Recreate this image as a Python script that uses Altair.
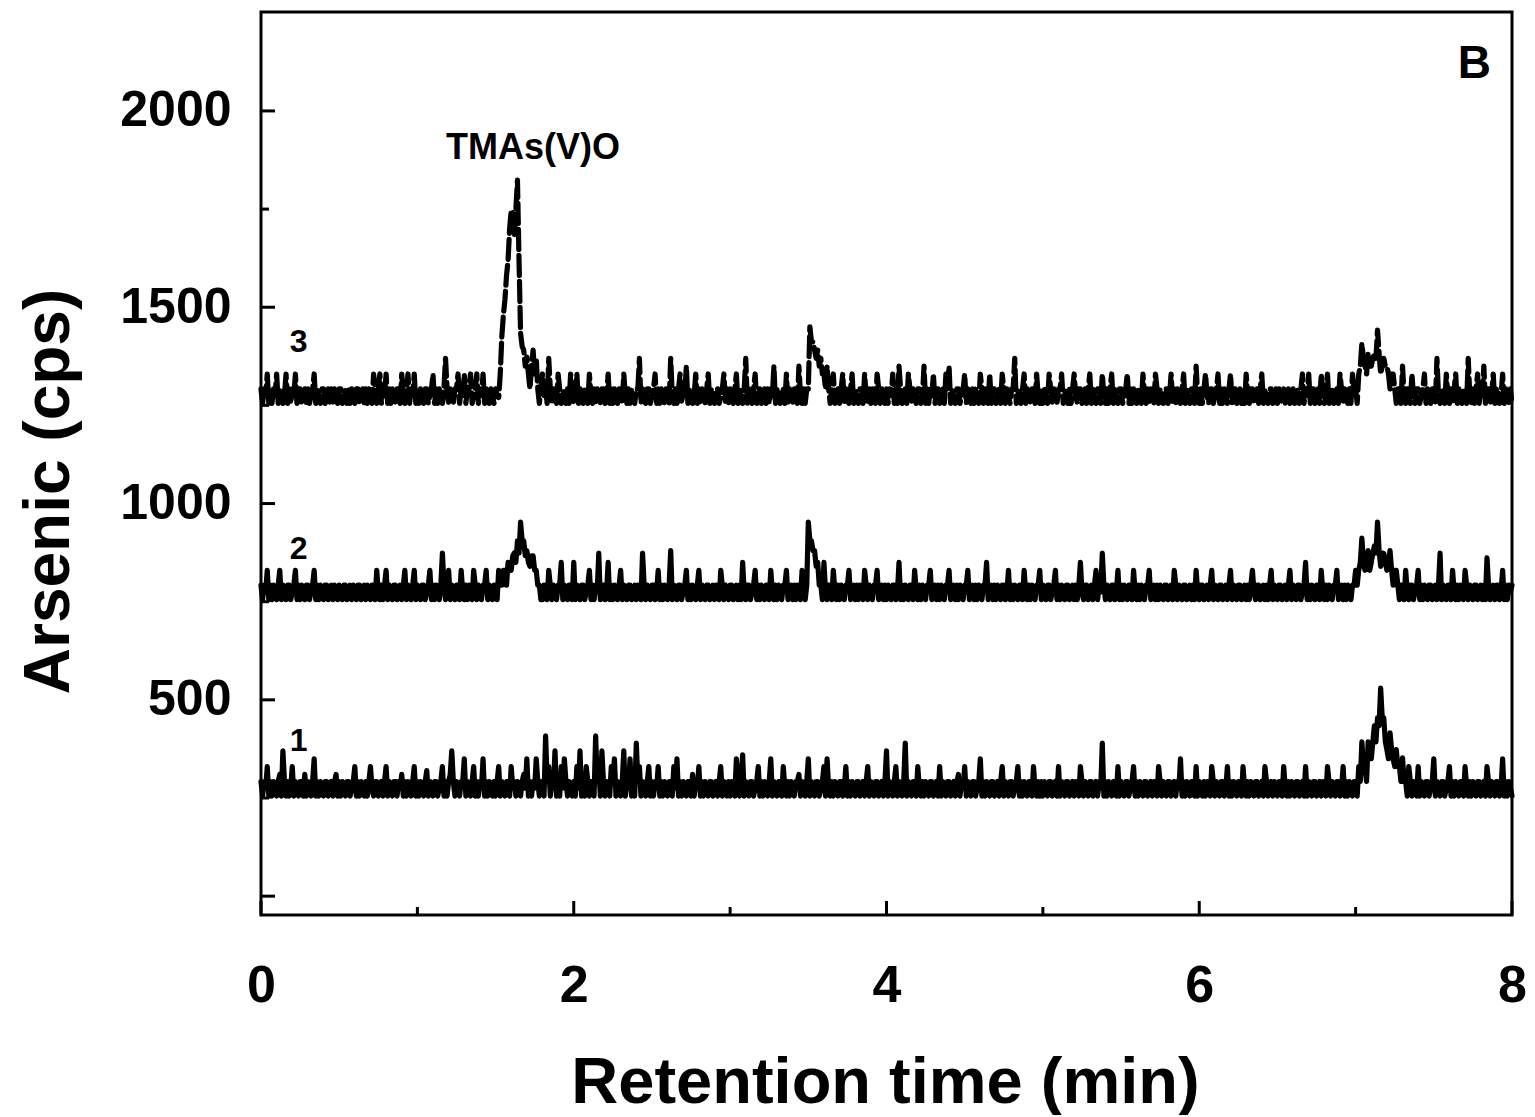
import altair as alt
import pandas as pd

# ---------------- data ----------------
# one reading every 0.01 min, 0.00 .. 8.00 min
TIME_STEP = 0.01

# trace 1 (solid, lowest)
TRACE_1 = [
    292,255,292,275,330,255,292,255,292,275, 255,292,310,255,370,292,255,292,255,275,
    330,255,292,275,255,292,292,255,310,255, 292,275,255,292,350,255,292,255,292,275,
    255,292,292,255,275,292,255,292,310,255,
    292,255,292,275,255,292,292,255,275,292, 330,255,292,255,292,275,255,292,255,292,
    330,275,255,292,292,255,275,292,255,292, 330,255,292,275,255,292,292,255,292,275,
    310,255,292,255,292,275,255,292,330,255,
    292,255,292,275,255,292,320,255,292,275, 255,292,292,255,275,292,330,255,292,255,
    292,310,370,292,255,292,275,255,292,292, 350,255,292,275,255,292,330,255,292,255,
    292,275,350,255,292,255,292,275,255,292,
    255,292,330,255,292,275,255,292,292,255, 330,275,292,255,292,275,255,292,310,275,
    350,255,292,255,292,275,350,292,255,292, 275,255,408,292,330,255,292,275,370,255,
    292,255,330,275,350,292,255,292,275,255,
    292,255,330,275,370,255,292,255,330,292, 255,292,275,255,408,292,330,255,370,292,
    255,292,275,255,330,292,350,255,292,275, 255,292,370,255,292,275,350,255,292,255,
    390,292,330,255,292,275,255,292,330,255,
    292,255,292,275,330,255,292,255,292,275, 255,292,292,255,330,275,350,255,292,255,
    292,275,255,292,292,255,310,255,292,275, 330,255,292,255,292,275,255,292,292,255,
    275,292,255,292,330,255,292,275,255,292,
    255,292,275,255,350,292,255,292,360,255, 292,275,255,292,292,255,275,292,330,255,
    292,255,292,275,255,292,350,255,292,275, 255,292,292,255,330,275,255,292,255,292,
    275,255,292,292,310,255,292,275,255,292,
    350,255,292,275,255,292,292,255,275,292, 330,255,350,275,255,292,255,292,275,255,
    292,292,255,275,330,255,292,255,292,275, 255,292,292,255,275,292,255,292,330,255,
    292,275,255,292,292,255,275,292,255,292,
    370,255,292,275,255,292,330,255,292,275, 255,292,390,255,292,275,255,292,292,255,
    330,275,255,292,255,292,275,255,292,292, 255,275,292,255,330,255,292,275,255,292,
    292,255,275,292,255,292,310,255,292,275,
    330,255,292,275,255,292,292,255,275,292, 350,255,292,255,292,275,255,292,292,255,
    275,292,255,292,330,255,292,275,255,292, 292,255,275,292,330,255,292,255,292,275,
    255,292,292,255,330,275,255,292,255,292,
    255,292,275,255,292,292,255,275,292,255, 330,255,292,275,255,292,292,255,275,292,
    255,292,275,255,330,292,255,292,275,255, 292,292,255,275,292,255,292,275,390,255,
    292,255,292,275,255,292,292,255,330,255,
    292,275,255,292,292,255,275,292,330,255, 292,255,292,275,255,292,292,255,275,292,
    255,292,275,255,330,292,255,292,275,255, 292,292,255,275,292,255,292,275,350,255,
    292,255,292,275,255,292,292,255,330,255,
    292,275,255,292,255,292,275,255,330,292, 255,292,275,255,292,292,255,275,330,255,
    292,255,292,275,255,292,292,255,330,275, 255,292,255,292,275,255,292,292,255,275,
    292,255,330,292,255,275,292,255,292,275,
    255,292,292,255,330,275,255,292,255,292, 275,255,292,292,255,275,292,255,330,255,
    292,275,255,292,292,255,275,292,255,292, 275,255,330,292,255,292,275,255,292,292,
    255,275,330,255,292,255,292,275,255,292,
    292,255,330,292,393,330,330,292,393,350, 350,393,434,393,454,434,530,454,454,393,
    373,350,416,373,350,330,373,330,330,292, 352,292,292,255,330,292,255,292,275,255,
    330,255,292,275,255,292,292,255,275,292,
    350,255,292,275,255,292,292,255,275,292, 330,255,292,255,292,275,255,292,292,255,
    330,275,255,292,255,292,275,255,292,292, 255,275,292,255,330,292,255,292,275,255,
    292,292,255,275,350,255,292,255,292,275,
    255,
]

# trace 2 (solid, middle)
TRACE_2 = [
    792,755,792,775,830,755,792,755,792,775, 755,792,830,755,792,775,755,792,792,755,
    775,792,830,755,792,755,792,775,755,792, 792,755,775,792,830,755,792,755,792,775,
    755,792,792,755,775,792,755,792,775,755,
    792,775,755,792,792,755,775,792,755,792, 775,755,792,792,755,775,792,755,792,775,
    755,792,792,755,830,775,755,792,755,792, 830,755,792,775,755,792,792,755,775,792,
    755,792,830,755,792,775,755,792,830,755,
    792,775,755,792,792,755,775,792,830,755, 792,755,792,775,755,792,874,792,755,792,
    830,755,792,775,755,792,792,755,830,775, 755,792,755,792,775,755,830,792,755,792,
    775,755,792,792,830,755,792,775,755,792,
    792,755,830,792,792,830,830,792,850,830, 830,867,874,850,905,874,953,905,905,867,
    880,850,840,867,867,830,830,792,792,755, 755,792,775,755,830,792,755,792,775,755,
    792,792,850,755,792,775,755,792,792,755,
    850,755,792,775,755,792,792,755,775,792, 830,755,792,755,792,775,874,755,792,792,
    755,775,850,755,792,755,792,775,755,792, 830,755,792,775,755,792,792,755,775,792,
    755,792,775,755,874,792,755,792,775,755,
    792,792,755,775,830,755,792,755,792,775, 755,792,880,755,792,775,755,792,792,755,
    775,792,830,755,792,755,792,775,755,792, 830,755,792,775,755,792,792,755,775,792,
    755,792,775,755,830,792,755,792,775,755,
    792,792,755,775,792,755,792,755,850,775, 755,792,792,755,775,792,830,755,792,755,
    792,775,755,792,792,755,830,775,755,792, 755,792,775,755,792,792,830,755,775,792,
    755,792,755,792,775,755,830,792,755,792,
    953,905,905,880,880,840,850,792,792,755, 850,775,755,792,792,755,830,775,755,792,
    755,792,775,755,792,792,830,755,775,792, 755,792,755,792,775,755,830,792,755,792,
    775,755,792,792,830,755,775,792,755,792,
    755,792,775,755,792,792,755,775,850,755, 792,755,792,775,755,792,792,755,830,775,
    755,792,755,792,775,755,792,792,830,755, 775,792,755,792,755,792,775,755,792,792,
    830,755,775,792,755,792,755,792,775,755,
    792,792,830,755,775,792,755,792,755,792, 775,755,792,792,850,755,775,792,755,792,
    755,792,775,755,792,792,755,775,830,755, 792,755,792,775,755,792,792,755,830,775,
    755,792,755,792,775,755,792,792,830,755,
    792,775,755,792,792,755,775,792,830,755, 792,755,792,775,755,792,792,755,775,792,
    755,792,755,792,850,775,755,792,792,755, 775,792,755,792,830,755,792,775,874,792,
    755,792,775,755,792,792,755,775,830,755,
    792,755,792,775,755,792,792,755,830,775, 755,792,755,792,775,755,792,792,830,755,
    775,792,755,792,755,792,775,755,792,792, 755,775,792,755,830,792,755,792,775,755,
    792,792,755,775,792,755,792,755,830,775,
    755,792,792,755,775,792,755,792,830,755, 792,775,755,792,792,755,775,792,755,792,
    830,755,792,775,755,792,792,755,775,792, 755,792,755,792,830,775,755,792,792,755,
    775,792,755,792,755,792,830,755,792,775,
    755,792,792,755,775,792,755,792,830,755, 792,775,755,792,792,755,775,792,850,755,
    792,755,792,775,755,792,792,755,830,775, 755,792,755,792,775,755,792,792,830,755,
    775,792,755,792,755,792,775,755,792,792,
    830,792,830,850,912,850,830,850,880,830, 850,874,892,874,953,880,840,874,873,850,
    830,850,880,830,792,830,830,792,755,792, 792,755,830,775,755,792,792,755,775,792,
    830,755,792,755,792,775,755,792,792,755,
    775,792,755,792,874,755,792,775,755,792, 792,755,830,775,755,792,755,792,775,755,
    830,792,755,792,775,755,792,792,755,775, 792,755,792,755,862,792,755,775,792,755,
    792,792,755,775,830,755,792,755,792,775,
    792,
]

# trace 3 (dashed, top, TMAs(V)O peak)
TRACE_3 = [
    1292,1255,1292,1275,1330,1255,1292,1255,1292,1275, 1330,1255,1292,1292,1255,1275,1330,1255,1292,1255,
    1292,1275,1330,1255,1292,1292,1255,1275,1292,1255, 1292,1255,1275,1292,1330,1255,1292,1275,1255,1292,
    1292,1255,1275,1292,1255,1292,1255,1292,1275,1255,
    1292,1292,1255,1275,1292,1255,1292,1255,1292,1275, 1255,1292,1292,1255,1275,1292,1255,1292,1255,1292,
    1275,1255,1330,1292,1255,1292,1330,1255,1292,1275, 1330,1255,1292,1255,1292,1275,1255,1292,1292,1255,
    1330,1275,1255,1292,1330,1255,1292,1275,1330,1255,
    1292,1255,1292,1275,1255,1292,1292,1255,1275,1292, 1330,1255,1292,1255,1292,1275,1255,1292,1370,1292,
    1255,1292,1275,1255,1292,1292,1330,1255,1292,1275, 1330,1255,1292,1292,1330,1255,1275,1292,1330,1255,
    1292,1275,1330,1255,1292,1275,1255,1292,1275,1255,
    1292,1275,1270,1330,1425,1480,1520,1580,1620,1700, 1747,1740,1680,1750,1824,1620,1434,1400,1391,1350,
    1373,1330,1292,1350,1391,1330,1370,1292,1255,1292, 1330,1275,1292,1255,1370,1292,1255,1292,1275,1255,
    1330,1292,1255,1275,1292,1255,1292,1255,1330,1275,
    1255,1292,1330,1255,1292,1275,1255,1292,1292,1255, 1330,1275,1255,1292,1255,1292,1275,1255,1292,1292,
    1255,1275,1330,1255,1292,1255,1292,1275,1255,1292, 1292,1255,1330,1275,1255,1292,1255,1292,1275,1255,
    1292,1292,1370,1255,1292,1275,1255,1292,1292,1255,
    1275,1292,1330,1255,1292,1255,1292,1275,1255,1292, 1292,1255,1370,1275,1255,1292,1255,1292,1330,1255,
    1292,1275,1350,1255,1292,1292,1255,1275,1330,1255, 1292,1255,1292,1275,1255,1292,1330,1255,1292,1275,
    1255,1292,1292,1255,1275,1292,1330,1255,1292,1255,
    1292,1275,1255,1292,1330,1255,1292,1275,1255,1292, 1370,1255,1292,1275,1255,1292,1330,1255,1292,1292,
    1255,1275,1292,1255,1292,1255,1292,1275,1350,1255, 1292,1292,1255,1275,1292,1255,1330,1255,1292,1275,
    1255,1292,1292,1255,1350,1275,1255,1292,1255,1292,
    1292,1450,1412,1412,1391,1370,1391,1350,1370,1330, 1330,1292,1350,1292,1255,1292,1330,1255,1275,1292,
    1255,1292,1330,1255,1292,1275,1255,1292,1330,1255, 1292,1275,1255,1292,1292,1255,1330,1275,1255,1292,
    1255,1292,1275,1255,1330,1292,1255,1292,1275,1255,
    1292,1255,1292,1275,1330,1255,1292,1255,1350,1292, 1255,1275,1292,1255,1330,1292,1255,1292,1275,1255,
    1292,1292,1255,1275,1350,1255,1292,1255,1292,1275, 1330,1255,1292,1292,1255,1275,1292,1255,1330,1292,
    1350,1255,1292,1275,1255,1292,1292,1255,1275,1292,
    1330,1255,1292,1275,1255,1292,1255,1292,1275,1255, 1330,1292,1255,1292,1275,1255,1330,1255,1292,1292,
    1255,1275,1292,1255,1330,1292,1255,1292,1275,1255, 1292,1292,1370,1255,1275,1292,1255,1292,1330,1255,
    1292,1275,1255,1292,1292,1255,1330,1275,1255,1292,
    1255,1292,1275,1255,1330,1292,1255,1292,1275,1255, 1292,1292,1330,1255,1275,1292,1255,1292,1255,1292,
    1330,1275,1255,1292,1292,1255,1275,1292,1255,1292, 1330,1255,1292,1275,1255,1292,1292,1255,1330,1275,
    1255,1292,1255,1292,1330,1255,1292,1275,1255,1292,
    1292,1255,1275,1292,1330,1255,1292,1255,1292,1275, 1255,1292,1292,1255,1330,1275,1255,1292,1255,1292,
    1275,1255,1330,1292,1255,1292,1275,1255,1292,1292, 1255,1275,1330,1255,1292,1255,1292,1275,1255,1292,
    1330,1255,1292,1275,1255,1292,1292,1255,1350,1275,
    1255,1292,1255,1292,1330,1275,1255,1292,1292,1255, 1275,1292,1330,1255,1292,1255,1292,1275,1255,1292,
    1330,1255,1292,1292,1255,1275,1292,1255,1292,1255, 1330,1275,1255,1292,1292,1255,1275,1292,1255,1292,
    1330,1255,1292,1275,1255,1292,1292,1255,1275,1292,
    1255,1292,1275,1255,1292,1255,1275,1292,1255,1275, 1292,1255,1275,1292,1255,1292,1330,1255,1292,1275,
    1330,1255,1292,1292,1255,1275,1292,1255,1330,1292, 1255,1275,1330,1255,1292,1292,1255,1275,1292,1255,
    1330,1292,1255,1292,1275,1255,1292,1255,1330,1292,
    1292,1255,1330,1350,1408,1370,1350,1330,1383,1350, 1350,1370,1383,1370,1442,1383,1330,1350,1370,1350,
    1350,1330,1292,1330,1330,1292,1255,1292,1292,1255, 1350,1275,1255,1292,1292,1255,1330,1275,1255,1292,
    1292,1255,1275,1292,1330,1255,1292,1275,1255,1292,
    1292,1255,1370,1275,1255,1292,1292,1255,1330,1275, 1255,1292,1255,1292,1330,1255,1292,1275,1255,1292,
    1292,1255,1370,1275,1255,1292,1255,1292,1330,1255, 1292,1275,1350,1255,1292,1292,1255,1275,1330,1255,
    1292,1292,1255,1275,1330,1255,1292,1275,1255,1292,
    1255,
]

X_LABEL_VALUES = [0, 2, 4, 6, 8]
X_MAJOR_TICKS = [0, 2, 4, 6, 8]
X_MINOR_TICKS = [1, 3, 5, 7]
Y_LABEL_VALUES = [500, 1000, 1500, 2000]
Y_MAJOR_TICKS = [0, 500, 1000, 1500, 2000]
Y_MINOR_TICKS = [250, 750, 1250, 1750]

TRACE_NAMES = ["1", "2", "3"]
TRACE_NAME_T = [0.24, 0.24, 0.24]
TRACE_NAME_CPS = [396, 885, 1411]

PEAK_NAME = ["TMAs(V)O"]
PEAK_NAME_T = [1.74]
PEAK_NAME_CPS = [1905]

PANEL_NAME = ["B"]
PANEL_NAME_T = [7.76]
PANEL_NAME_CPS = [2119]

X_DOMAIN = [0, 8]
Y_DOMAIN = [-48, 2252]

# ---------------- chart ----------------
W, H = 1251, 903
FONT = "Liberation Sans"

xs = alt.Scale(domain=X_DOMAIN, nice=False, zero=False)
ys = alt.Scale(domain=Y_DOMAIN, nice=False, zero=False)

x_axis = alt.Axis(
    values=X_LABEL_VALUES, format="d", title="Retention time (min)",
    labelFont=FONT, labelFontSize=52, labelFontWeight="bold", labelColor="black",
    labelPadding=45, labelFlush=False, labelOverlap=False,
    ticks=False, tickSize=0, domain=False, grid=False,
    titleFont=FONT, titleFontSize=65, titleFontWeight="bold", titleColor="black",
    titleX=624, titleY=187, titleBaseline="alphabetic", titleAlign="center",
)
y_axis = alt.Axis(
    values=Y_LABEL_VALUES, format="d", title="Arsenic (cps)",
    labelFont=FONT, labelFontSize=50, labelFontWeight="bold", labelColor="black",
    labelPadding=30, labelOverlap=False,
    ticks=False, tickSize=0, domain=False, grid=False,
    titleFont=FONT, titleFontSize=64, titleFontWeight="bold", titleColor="black",
    titleAngle=270, titleX=-193, titleY=479, titleBaseline="alphabetic", titleAlign="center",
)

X_ENC = alt.X("t:Q", scale=xs, axis=x_axis)
Y_ENC = alt.Y("cps:Q", scale=ys, axis=y_axis)


def trace(values, dash=None):
    times = [round(i * TIME_STEP, 2) for i in range(len(values))]
    df = pd.DataFrame({"t": times, "cps": values})
    kw = dict(color="black", strokeWidth=5.2, strokeJoin="round", strokeCap="round")
    if dash:
        kw["strokeDash"] = dash
    return alt.Chart(df).mark_line(**kw).encode(x=X_ENC, y=Y_ENC, order="t:Q")


t1 = trace(TRACE_1)
t2 = trace(TRACE_2)
t3 = trace(TRACE_3, dash=[20, 6])

x_major = alt.Chart(pd.DataFrame({"t": X_MAJOR_TICKS})).mark_rule(color="black", strokeWidth=3).encode(
    x=X_ENC, y=alt.value(H), y2=alt.value(H - 14))
x_minor = alt.Chart(pd.DataFrame({"t": X_MINOR_TICKS})).mark_rule(color="black", strokeWidth=3).encode(
    x=X_ENC, y=alt.value(H), y2=alt.value(H - 8))
y_major = alt.Chart(pd.DataFrame({"cps": Y_MAJOR_TICKS})).mark_rule(color="black", strokeWidth=3).encode(
    y=Y_ENC, x=alt.value(0), x2=alt.value(14))
y_minor = alt.Chart(pd.DataFrame({"cps": Y_MINOR_TICKS})).mark_rule(color="black", strokeWidth=3).encode(
    y=Y_ENC, x=alt.value(0), x2=alt.value(8))

trace_names = alt.Chart(pd.DataFrame({"t": TRACE_NAME_T, "cps": TRACE_NAME_CPS, "label": TRACE_NAMES})).mark_text(
    font=FONT, fontWeight="bold", fontSize=32, color="black", align="center", baseline="middle").encode(
    x=X_ENC, y=Y_ENC, text="label:N")
peak_name = alt.Chart(pd.DataFrame({"t": PEAK_NAME_T, "cps": PEAK_NAME_CPS, "label": PEAK_NAME})).mark_text(
    font=FONT, fontWeight="bold", fontSize=36, color="black", align="center", baseline="middle").encode(
    x=X_ENC, y=Y_ENC, text="label:N")
panel_name = alt.Chart(pd.DataFrame({"t": PANEL_NAME_T, "cps": PANEL_NAME_CPS, "label": PANEL_NAME})).mark_text(
    font=FONT, fontWeight="bold", fontSize=46, color="black", align="center", baseline="middle").encode(
    x=X_ENC, y=Y_ENC, text="label:N")

chart = alt.layer(
    t1, t2, t3, x_major, x_minor, y_major, y_minor, trace_names, peak_name, panel_name
).properties(
    width=W, height=H,
    padding={"left": 253, "top": 4, "right": 15, "bottom": 200},
    autosize=alt.AutoSizeParams(type="none"),
    background="white",
).configure_view(
    stroke="black", strokeWidth=3
)

chart.save("out.html", embed_options={"renderer": "svg", "actions": False})
